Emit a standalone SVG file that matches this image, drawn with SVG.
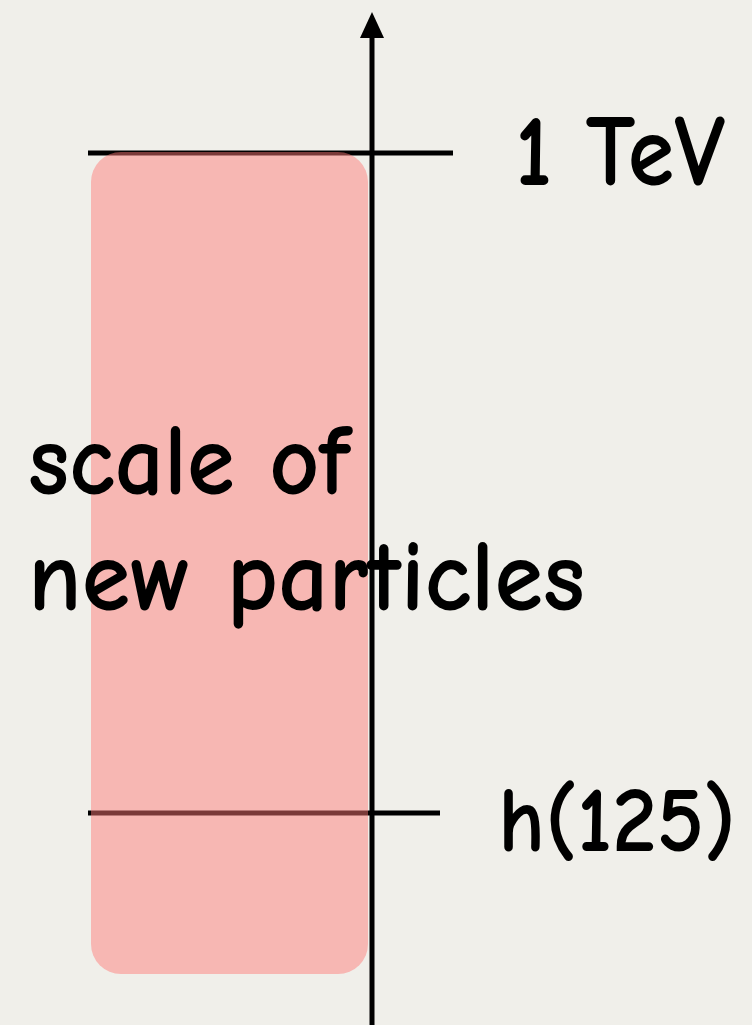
<svg xmlns="http://www.w3.org/2000/svg" width="752" height="1025" viewBox="0 0 752 1025">
<style>
.ax{stroke:#000;stroke-width:5;fill:none}
.lbl{font-family:"Comic Neue","Liberation Sans",sans-serif;font-weight:bold;font-size:102px;fill:#000}
</style>
<rect width="752" height="1025" fill="#f0efea"/>
<g id="connectors">
<line class="ax" x1="372" y1="1025" x2="372" y2="34"/>
<path d="M372 12 L384 38 L360 38 Z" fill="#000"/>
<line class="ax" x1="88" y1="153" x2="453" y2="153"/>
<line class="ax" x1="88" y1="813" x2="440" y2="813"/>
</g>
<g id="band">
<rect x="91" y="152" width="277" height="822" rx="30" fill="#ff7a78" fill-opacity="0.48"/>
</g>
<g id="label-tev"><text class="lbl" x="515" y="185" textLength="210" lengthAdjust="spacingAndGlyphs">1 TeV</text></g>
<g id="label-h"><text class="lbl" x="498" y="851" style="font-size:94px" textLength="238" lengthAdjust="spacingAndGlyphs">h(125)</text></g>
<g id="label-scale">
<text class="lbl" x="28" y="494" textLength="322" lengthAdjust="spacingAndGlyphs">scale of</text>
<text class="lbl" x="28" y="610" textLength="557" lengthAdjust="spacingAndGlyphs">new particles</text>
</g>
</svg>
